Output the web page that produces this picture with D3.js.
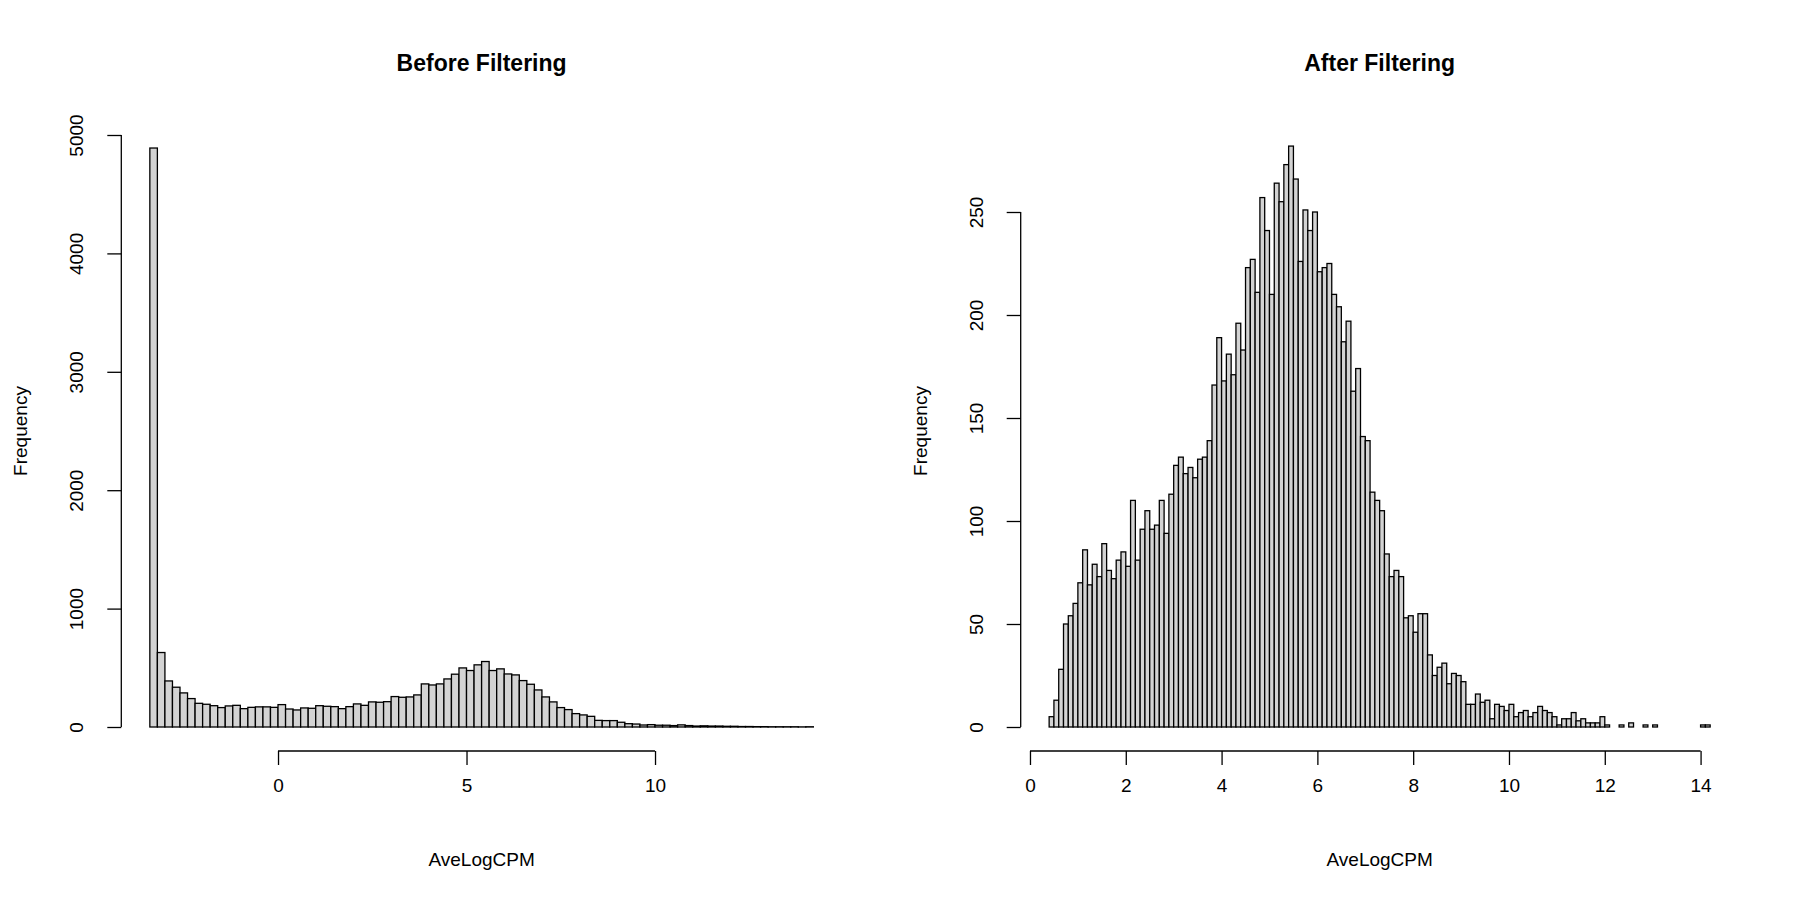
<!DOCTYPE html>
<html>
<head>
<meta charset="utf-8">
<script src="https://cdn.jsdelivr.net/npm/d3@7"></script>
<style>
  body { margin: 0; background: #fff; }
  svg text { font-family: "Liberation Sans", Arial, sans-serif; fill: #000; }
</style>
</head>
<body>
<svg id="chart" width="1800" height="900"></svg>
<script>
// Histogram counts
// Before filtering: bins of 0.2 from -3.4 to 14.2
const beforeCounts = [
    4890, 629, 389, 336, 288, 240, 200, 192, 180, 164, 178, 183, 155, 166, 170, 170,
    166, 189, 152, 144, 161, 158, 180, 175, 172, 155, 172, 195, 183, 212, 209, 214,
    257, 251, 254, 271, 364, 355, 364, 406, 446, 499, 477, 525, 553, 477, 491, 448,
    440, 392, 361, 313, 254, 212, 164, 147, 113, 102, 90, 56, 54, 54, 40, 28,
    25, 17, 20, 15, 15, 12, 18, 12, 8, 10, 8, 8, 6, 6, 4, 4,
    3, 3, 2, 2, 2, 2, 1, 2
];

// After filtering: bins of 0.1 from 0.4 to 14.2
const afterCounts = [
    5, 13, 28, 50, 54, 60, 70, 86, 69, 79, 73, 89, 76, 72, 81, 85,
    78, 110, 81, 96, 105, 96, 98, 110, 94, 113, 127, 131, 123, 126, 121, 130,
    131, 139, 166, 189, 168, 181, 171, 196, 183, 223, 227, 211, 257, 241, 210, 264,
    255, 273, 282, 266, 226, 251, 241, 250, 221, 223, 225, 210, 204, 187, 197, 163,
    174, 141, 139, 114, 110, 105, 84, 73, 76, 73, 53, 54, 46, 55, 55, 35,
    25, 29, 31, 21, 26, 25, 22, 11, 11, 16, 12, 13, 4, 11, 10, 8,
    11, 5, 7, 8, 5, 7, 10, 8, 7, 5, 1, 4, 4, 7, 3, 4,
    2, 2, 2, 5, 1, 0, 0, 1, 0, 2, 0, 0, 1, 0, 1, 0,
    0, 0, 0, 0, 0, 0, 0, 0, 1, 1
];

const panels = [
    {
        title: 'Before Filtering', counts: beforeCounts, start: -3.4, width: 0.2,
        x: d3.scaleLinear().domain([-4.104, 14.904]).range([123.3, 839.9]),
        y: d3.scaleLinear().domain([0, 5000]).range([727, 135]),
        xTicks: [0, 5, 10], yTicks: [0, 1000, 2000, 3000, 4000, 5000]
    },
    {
        title: 'After Filtering', counts: afterCounts, start: 0.4, width: 0.1,
        x: d3.scaleLinear().domain([-0.152, 14.752]).range([1022.7, 1736.6]),
        y: d3.scaleLinear().domain([0, 250]).range([727, 212]),
        xTicks: d3.range(0, 15, 2), yTicks: [0, 50, 100, 150, 200, 250]
    }
];

const svg = d3.select('#chart');

panels.forEach(p => {
    const g = svg.append('g');
    const bins = p.counts.map((c, i) => ({
        x0: +(p.start + i * p.width).toFixed(2),
        x1: +(p.start + (i + 1) * p.width).toFixed(2),
        count: c
    }));

    // Bars
    g.selectAll('rect.bar')
        .data(bins)
        .enter().append('rect')
        .attr('class', 'bar')
        .attr('x', d => p.x(d.x0))
        .attr('width', d => p.x(d.x1) - p.x(d.x0))
        .attr('y', d => p.y(d.count))
        .attr('height', d => p.y(0) - p.y(d.count))
        .attr('fill', '#d3d3d3')
        .attr('stroke', '#000')
        .attr('stroke-width', 1.3);

    const [xl, xr] = p.x.range();

    // X axis (R style: line only spans the tick range)
    const xAxisY = 751;
    const xa = g.append('g')
        .attr('transform', `translate(0,${xAxisY})`)
        .call(d3.axisBottom(p.x).tickValues(p.xTicks).tickSize(14).tickPadding(14).tickFormat(d3.format('d')));
    xa.select('.domain').remove();
    xa.append('line')
        .attr('x1', p.x(p.xTicks[0])).attr('x2', p.x(p.xTicks[p.xTicks.length - 1]))
        .attr('stroke', '#000').attr('stroke-width', 1.3);
    xa.selectAll('.tick line').attr('stroke-width', 1.3);
    xa.selectAll('text').attr('font-size', 19).attr('fill', '#000');

    // Y axis
    const ya = g.append('g')
        .attr('transform', `translate(${xl - 2},0)`)
        .call(d3.axisLeft(p.y).tickValues(p.yTicks).tickSize(14).tickFormat(d3.format('d')));
    ya.select('.domain').remove();
    ya.append('line')
        .attr('y1', p.y(p.yTicks[0])).attr('y2', p.y(p.yTicks[p.yTicks.length - 1]))
        .attr('stroke', '#000').attr('stroke-width', 1.3);
    ya.selectAll('.tick line').attr('stroke-width', 1.3);
    ya.selectAll('.tick text')
        .attr('font-size', 19)
        .attr('fill', '#000')
        .attr('x', null).attr('dy', null)
        .attr('text-anchor', 'middle')
        .attr('transform', 'translate(-38,0) rotate(-90)');

    // Title and labels
    const cx = (xl + xr) / 2;
    g.append('text')
        .attr('x', cx).attr('y', 71)
        .attr('text-anchor', 'middle')
        .attr('font-size', 23).attr('font-weight', 'bold')
        .text(p.title);
    g.append('text')
        .attr('x', cx).attr('y', 866)
        .attr('text-anchor', 'middle')
        .attr('font-size', 19)
        .text('AveLogCPM');
    g.append('text')
        .attr('transform', `translate(${xl - 96},${(727 + 135) / 2}) rotate(-90)`)
        .attr('text-anchor', 'middle')
        .attr('font-size', 19)
        .text('Frequency');
});
</script>
</body>
</html>
